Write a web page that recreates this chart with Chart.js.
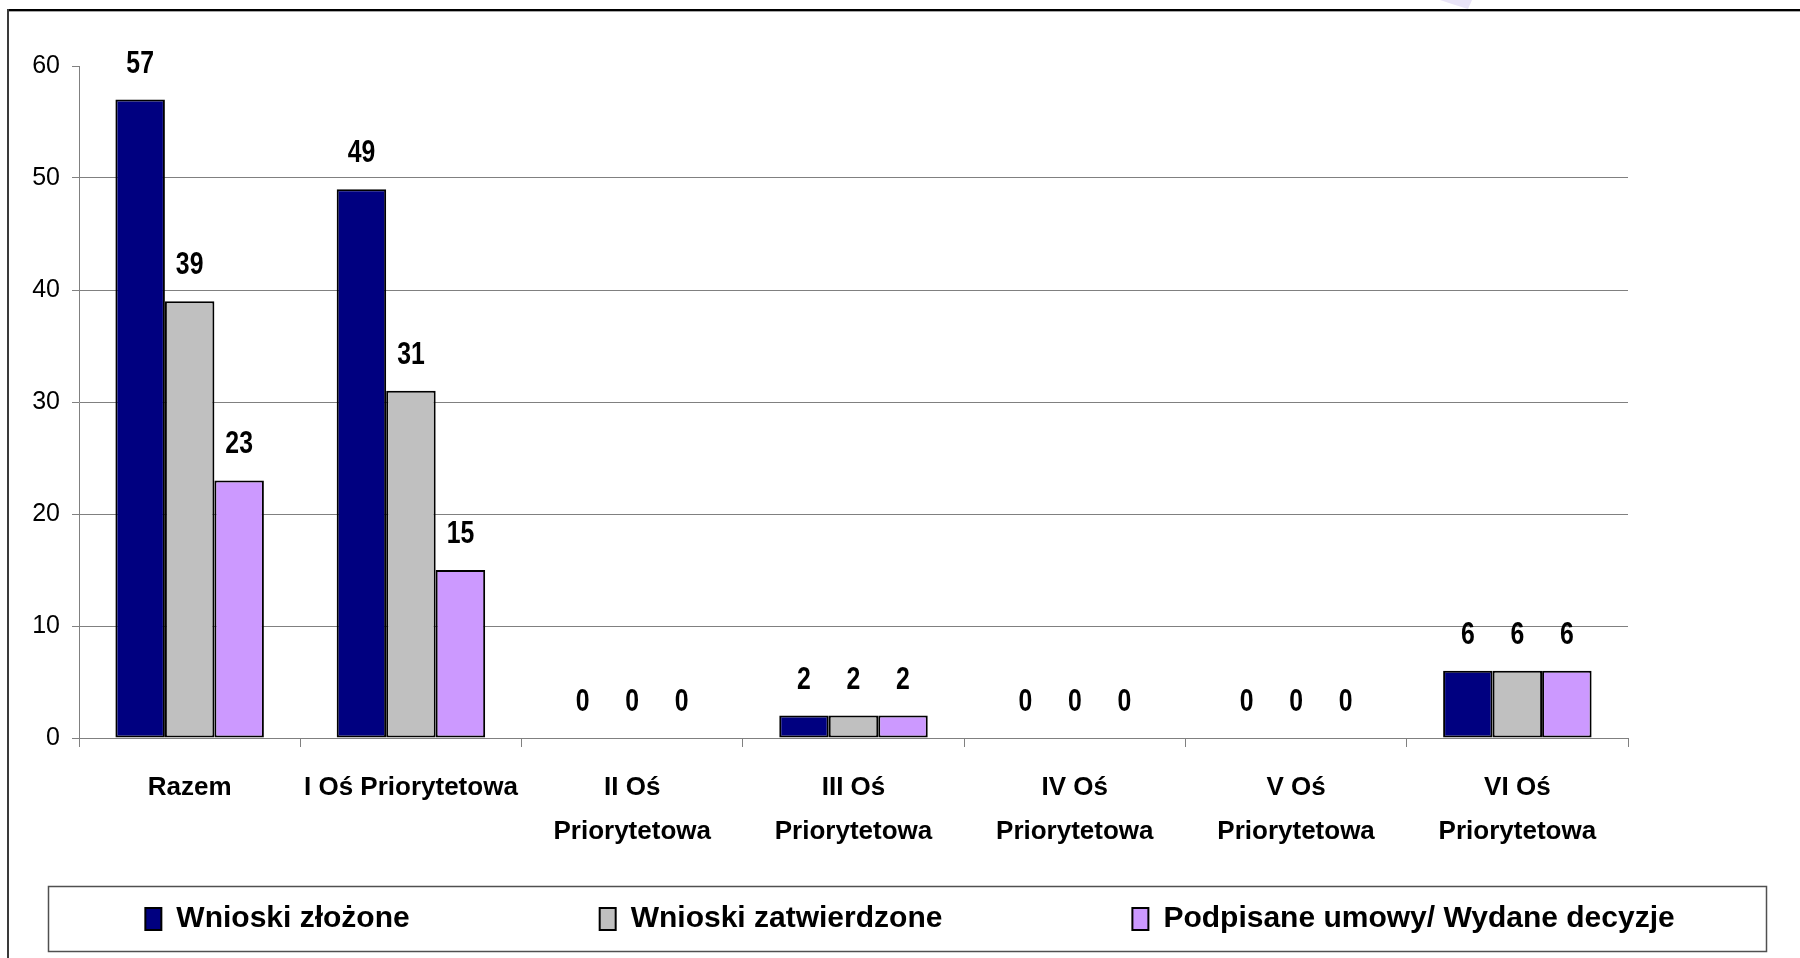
<!DOCTYPE html>
<html>
<head>
<meta charset="utf-8">
<script src="https://cdn.jsdelivr.net/npm/chart.js@4.4.1/dist/chart.umd.min.js"></script>
<style>
  html, body { margin: 0; padding: 0; background: #ffffff; }
  #wrap { position: relative; width: 1800px; height: 958px; }
</style>
</head>
<body>
<div id="wrap"><canvas id="c"></canvas></div>
<script>
// ---- data ----
const categories = [
  'Razem',
  'I Oś Priorytetowa',
  ['II Oś', 'Priorytetowa'],
  ['III Oś', 'Priorytetowa'],
  ['IV Oś', 'Priorytetowa'],
  ['V Oś', 'Priorytetowa'],
  ['VI Oś', 'Priorytetowa']
];
const seriesNames = ['Wnioski złożone', 'Wnioski zatwierdzone', 'Podpisane umowy/ Wydane decyzje'];
const wnioskiZlozone = [57, 49, 0, 2, 0, 0, 6];
const wnioskiZatwierdzone = [39, 31, 0, 2, 0, 0, 6];
const podpisaneUmowy = [23, 15, 0, 2, 0, 0, 6];
const yTicks = [0, 10, 20, 30, 40, 50, 60];

// ---- styles ----
const colors = ['#000080', '#C0C0C0', '#CC99FF'];
const SANS = "'Liberation Sans', Arial, sans-serif";
const LEGEND_PAD = 190;
const LEGEND_ROW_Y = 904;

const valueLabels = {
  id: 'valueLabels',
  afterDatasetsDraw(chart) {
    const ctx = chart.ctx;
    chart.data.datasets.forEach((ds, i) => {
      const meta = chart.getDatasetMeta(i);
      meta.data.forEach((el, j) => {
        ctx.save();
        ctx.font = "bold 31px " + SANS;
        ctx.fillStyle = '#000';
        ctx.textAlign = 'center';
        ctx.textBaseline = 'alphabetic';
        ctx.translate(el.x, el.y - 27);
        ctx.scale(0.8, 1);
        ctx.fillText(String(ds.data[j]), 0, 0);
        ctx.restore();
      });
    });
  }
};

const legendPlace = {
  id: 'legendPlace',
  afterLayout(chart) {
    const lg = chart.legend;
    if (!lg) return;
    lg.top = LEGEND_ROW_Y - LEGEND_PAD;
    lg.bottom = chart.height;
    lg.height = lg.bottom - lg.top;
  }
};

const frame = {
  id: 'frame',
  beforeDraw(chart) {
    const ctx = chart.ctx;
    ctx.save();
    ctx.fillStyle = '#fff';
    ctx.fillRect(0, 0, chart.width, chart.height);
    ctx.fillStyle = '#e9e4f7';
    ctx.beginPath();
    ctx.moveTo(1440, 0); ctx.lineTo(1472, 0); ctx.lineTo(1468, 9); ctx.lineTo(1452, 4);
    ctx.closePath(); ctx.fill();
    ctx.restore();
  },
  afterDraw(chart) {
    const ctx = chart.ctx;
    ctx.save();
    ctx.fillStyle = '#000';
    ctx.fillRect(7, 9, 1793, 2);
    ctx.fillStyle = '#a8a8a8';
    ctx.fillRect(9, 11, 1791, 1);
    ctx.fillStyle = '#3a3a3a';
    ctx.fillRect(7, 9, 2, 949);
    ctx.strokeStyle = '#505050';
    ctx.lineWidth = 1.5;
    ctx.strokeRect(48.5, 886.5, 1718, 65);
    ctx.restore();
  }
};

const ctx = document.getElementById('c');
new Chart(ctx, {
  type: 'bar',
  data: {
    labels: categories,
    datasets: [
      { label: seriesNames[0], data: wnioskiZlozone, backgroundColor: colors[0] },
      { label: seriesNames[1], data: wnioskiZatwierdzone, backgroundColor: colors[1] },
      { label: seriesNames[2], data: podpisaneUmowy, backgroundColor: colors[2] }
    ]
  },
  options: {
    responsive: true,
    maintainAspectRatio: false,
    animation: false,
    devicePixelRatio: 1,
    datasets: {
      bar: {
        borderColor: '#000',
        borderWidth: 2,
        borderSkipped: false,
        categoryPercentage: 0.671,
        barPercentage: 1.0
      }
    },
    layout: { padding: { top: 66, left: -90, right: -110, bottom: 6 } },
    plugins: {
      tooltip: { enabled: false },
      legend: {
        position: 'bottom',
        align: 'center',
        maxHeight: 66,
        labels: {
          font: { family: SANS, size: 30, weight: 'bold' },
          color: '#000',
          boxWidth: 16,
          boxHeight: 22,
          padding: LEGEND_PAD
        }
      }
    },
    scales: {
      x: {
        offset: true,
        grid: { display: true, drawOnChartArea: false, drawTicks: true, tickLength: 9, color: '#808080', offset: true },
        border: { display: true, color: '#808080', width: 1 },
        ticks: {
          color: '#000',
          font: { family: SANS, size: 26, weight: 'bold', lineHeight: 1.72 },
          padding: 18,
          maxRotation: 0,
          autoSkip: false
        },
        afterFit(s) { s.height = 148; }
      },
      y: {
        min: 0,
        max: 60,
        afterBuildTicks(s) { s.ticks = yTicks.map(v => ({ value: v })); },
        grid: {
          color: (c) => (c.tick && c.tick.value === 60) ? 'rgba(0,0,0,0)' : '#808080',
          tickColor: '#808080',
          tickLength: 7,
          drawTicks: true,
          lineWidth: 1
        },
        border: { display: true, color: '#808080', width: 1 },
        ticks: {
          color: '#000',
          font: { family: SANS, size: 25 },
          padding: 12
        },
        afterFit(s) { s.width = 169; }
      },
      yRight: {
        type: 'linear',
        position: 'right',
        display: true,
        min: 0, max: 1,
        grid: { display: false, drawTicks: false },
        border: { display: false },
        ticks: { display: false },
        afterFit(s) { s.width = 282; }
      }
    }
  },
  plugins: [frame, valueLabels, legendPlace]
});
</script>
</body>
</html>
